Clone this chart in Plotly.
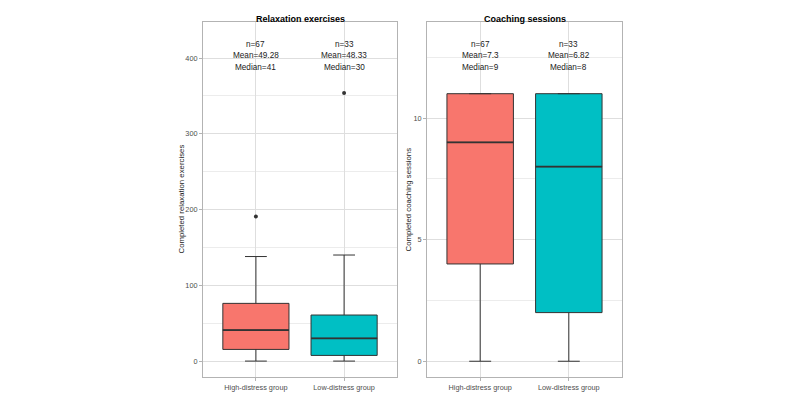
import plotly.graph_objects as go

# values
groups = ["High-distress group", "Low-distress group"]
colors = ["#F8766D", "#00BFC4"]

relax_q1 = [15.4, 7.5]
relax_median = [41, 30]
relax_q3 = [76.2, 60.8]
relax_lower = [0, 0]
relax_upper = [138, 140]
relax_outliers = [[191], [354]]
relax_n = [67, 33]
relax_mean = [49.28, 48.33]

coach_q1 = [4, 2]
coach_median = [9, 8]
coach_q3 = [11, 11]
coach_lower = [0, 0]
coach_upper = [11, 11]
coach_n = [67, 33]
coach_mean = [7.3, 6.82]

FONT = "Liberation Sans, Arial, sans-serif"
W, H = 800, 407
BOX_W = 0.75

def px_x(p):
    return p / W

def px_y(p):
    return 1 - p / H

fig = go.Figure()

panels = [
    dict(xa="x", ya="y", q1=relax_q1, med=relax_median, q3=relax_q3, lo=relax_lower,
         hi=relax_upper, out=relax_outliers, n=relax_n, mean=relax_mean),
    dict(xa="x2", ya="y2", q1=coach_q1, med=coach_median, q3=coach_q3, lo=coach_lower,
         hi=coach_upper, out=None, n=coach_n, mean=coach_mean),
]

for p in panels:
    for i, g in enumerate(groups):
        fig.add_trace(go.Box(
            x=[i], q1=[p["q1"][i]], median=[p["med"][i]], q3=[p["q3"][i]],
            lowerfence=[p["lo"][i]], upperfence=[p["hi"][i]],
            width=BOX_W, whiskerwidth=0.33, fillcolor=colors[i],
            line=dict(color="#333333", width=1), boxpoints=False,
            xaxis=p["xa"], yaxis=p["ya"], showlegend=False, hoverinfo="skip",
        ))
        # ggplot draws the median thicker than the box outline
        fig.add_trace(go.Scatter(
            x=[i - BOX_W / 2, i + BOX_W / 2], y=[p["med"][i]] * 2, mode="lines",
            line=dict(color="#333333", width=1.8), xaxis=p["xa"], yaxis=p["ya"],
            showlegend=False, hoverinfo="skip",
        ))
        if p["out"]:
            fig.add_trace(go.Scatter(
                x=[i] * len(p["out"][i]), y=p["out"][i], mode="markers",
                marker=dict(color="#333333", size=4), xaxis=p["xa"], yaxis=p["ya"],
                showlegend=False, hoverinfo="skip",
            ))
        lines = [f"n={p['n'][i]}", f"Mean={p['mean'][i]}", f"Median={p['med'][i]}"]
        for txt, ypix in zip(lines, [37.7, 49.5, 61.3]):
            fig.add_annotation(
                x=i, y=px_y(ypix), xref=p["xa"], yref="paper", showarrow=False,
                text=txt, font=dict(family=FONT, size=8.2, color="#1a1a1a"),
            )

axis_common = dict(
    showline=True, mirror=True, linecolor="#b3b3b3", linewidth=1,
    ticks="outside", ticklen=3, tickcolor="#b3b3b3",
    gridcolor="#dedede", gridwidth=0.8, zeroline=False,
    tickfont=dict(family=FONT, size=7.3, color="#4d4d4d"),
)

xcommon = dict(axis_common, tickmode="array", tickvals=[0, 1], ticktext=groups,
               range=[-0.6, 1.6])

fig.update_layout(
    width=W, height=H, margin=dict(l=0, r=0, t=0, b=0),
    plot_bgcolor="white", paper_bgcolor="white",
    xaxis=dict(xcommon, domain=[px_x(203), px_x(397)]),
    xaxis2=dict(xcommon, domain=[px_x(427), px_x(622)], anchor="y2"),
    yaxis=dict(axis_common, domain=[px_y(377.3), px_y(21.7)], range=[-21.4, 448],
               tick0=0, dtick=100,
               minor=dict(dtick=50, showgrid=True, gridcolor="#ececec", gridwidth=0.5)),
    yaxis2=dict(axis_common, domain=[px_y(377.3), px_y(21.7)], range=[-0.66, 13.96],
                anchor="x2", tick0=0, dtick=5,
                minor=dict(dtick=2.5, showgrid=True, gridcolor="#ececec", gridwidth=0.5)),
)

# panel titles and y-axis titles
titles = [("Relaxation exercises", 300), ("Coaching sessions", 524.5)]
for t, cx in titles:
    fig.add_annotation(x=px_x(cx), y=px_y(12), xref="paper", yref="paper", showarrow=False,
                       text=f"<b>{t}</b>", font=dict(family=FONT, size=9, color="black"))

ytitles = [("Completed relaxation exercises", 181), ("Completed coaching sessions", 408)]
for t, cx in ytitles:
    fig.add_annotation(x=px_x(cx), y=px_y(199.5), xref="paper", yref="paper", showarrow=False,
                       xanchor="center", yanchor="middle",
                       text=t, textangle=-90, font=dict(family=FONT, size=7.8, color="#1a1a1a"))

fig.write_html("out.html", config={"displayModeBar": False},
               post_script="document.body.style.margin='0px';")
